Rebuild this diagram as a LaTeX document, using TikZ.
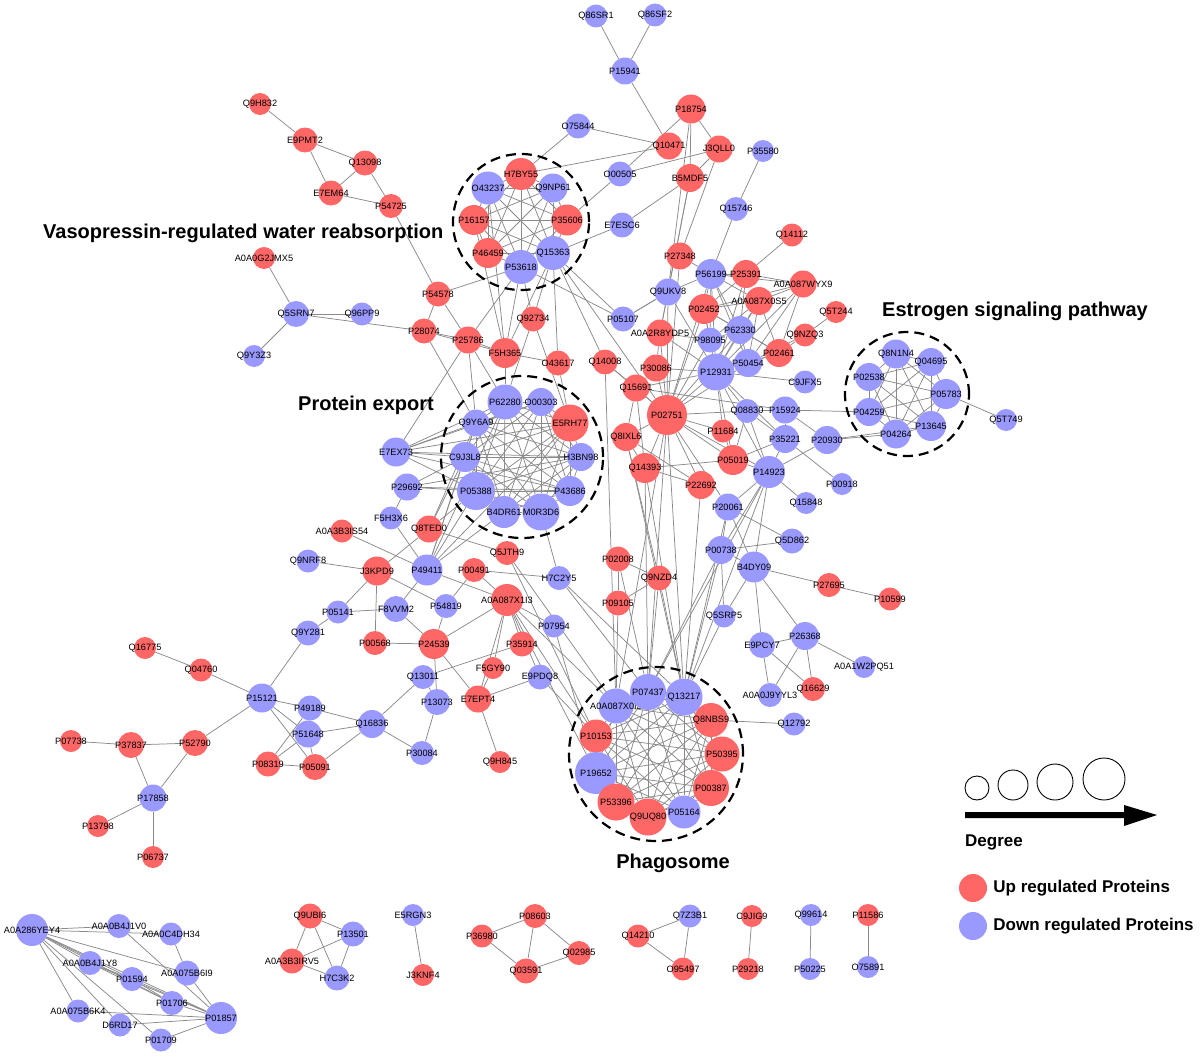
\documentclass[tikz,border=0pt]{standalone}
\usepackage{fontspec}
\setmainfont{Liberation Sans}
\usepackage{tikz}
\usetikzlibrary{positioning,backgrounds}
\definecolor{UpRed}{HTML}{FF6666}
\definecolor{DownBlue}{HTML}{9999FF}
\definecolor{LinkGray}{HTML}{8A8A8A}
\newcommand\vasogroup{H7BY55,O43237,Q9NP61,P16157,P35606,P46459,Q15363,P53618}
\newcommand\exportgroup{P62280,O00303,E5RH77,Q9Y6A9,C9J3L8,H3BN98,P05388,P43686,B4DR61,M0R3D6}
\newcommand\estrogroup{Q8N1N4,Q04695,P02538,P05783,P04259,P13645,P04264}
\newcommand\phagogroup{A0A087X0I3,P07437,Q13217,Q8NBS9,P10153,P50395,P19652,P00387,P53396,Q9UQ80,P05164}

\begin{document}
\begin{tikzpicture}[x=1pt,y=-1pt,
  upnode/.style={circle,fill=UpRed,minimum size=#1pt,inner sep=0pt},
  dnnode/.style={circle,fill=DownBlue,minimum size=#1pt,inner sep=0pt},
  every label/.style={font=\fontsize{9.2}{10}\selectfont,inner sep=0pt},
  link/.style={draw=LinkGray,line width=0.75pt},
  grp/.style={draw=black,line width=2.2pt,dash pattern=on 10pt off 6pt},
  ttl/.style={font=\fontsize{20}{24}\selectfont\bfseries,inner sep=0pt},
  keytext/.style={font=\fontsize{17}{20}\selectfont\bfseries,inner sep=0pt},
  degcirc/.style={circle,draw=black,line width=0.9pt,minimum size=#1pt,inner sep=0pt}]
  \useasboundingbox (0,0) rectangle (1200,1057);

  % titles
  \node[ttl,anchor=west] (vasotitle) at (43,233) {Vasopressin-regulated water reabsorption};
  \node[ttl,anchor=west] (exporttitle) at (298,405) {Protein export};
  \node[ttl,anchor=west] (estrotitle) at (882,311) {Estrogen signaling pathway};
  \node[ttl] (phagotitle) at (673,863) {Phagosome};

  % top left
  \node[upnode=22,label=center:Q9H832] (Q9H832) at (260,104) {};
  \node[upnode=25,label=center:E9PMT2] (E9PMT2) at (305,140) {};
  \node[upnode=25,label=center:Q13098] (Q13098) at (365,163) {};
  \node[upnode=25,label=center:E7EM64] (E7EM64) at (331,193) {};
  \node[upnode=24,label=center:P54725] (P54725) at (391,206) {};
  \node[upnode=22,label=center:A0A0G2JMX5] (A0A0G2JMX5) at (264,258) {};
  \node[dnnode=26,label=center:Q5SRN7] (Q5SRN7) at (296,314) {};
  \node[dnnode=23,label=center:Q96PP9] (Q96PP9) at (362,314) {};
  \node[dnnode=22,label=center:Q9Y3Z3] (Q9Y3Z3) at (254,356) {};

  % top centre
  \node[dnnode=23,label=center:Q86SR1] (Q86SR1) at (596,16) {};
  \node[dnnode=23,label=center:Q86SF2] (Q86SF2) at (655,15) {};
  \node[dnnode=27,label=center:P15941] (P15941) at (625,71) {};
  \node[upnode=29,label=center:P18754] (P18754) at (691,109) {};
  \node[dnnode=25,label=center:O75844] (O75844) at (578,126) {};
  \node[upnode=27,label=center:Q10471] (Q10471) at (669,146) {};
  \node[upnode=27,label=center:J3QLL0] (J3QLL0) at (719,149) {};
  \node[dnnode=22,label=center:P35580] (P35580) at (763,151) {};
  \node[dnnode=25,label=center:O00505] (O00505) at (620,174) {};
  \node[upnode=28,label=center:B5MDF5] (B5MDF5) at (690,178) {};
  \node[dnnode=25,label=center:E7ESC6] (E7ESC6) at (622,225) {};
  \node[dnnode=24,label=center:Q15746] (Q15746) at (736,209) {};
  \node[upnode=23,label=center:Q14112] (Q14112) at (792,235) {};

  \node[upnode=32,label=center:H7BY55] (H7BY55) at (521,174) {};
  \node[dnnode=33,label=center:O43237] (O43237) at (488,188) {};
  \node[dnnode=29,label=center:Q9NP61] (Q9NP61) at (553,188) {};
  \node[upnode=30,label=center:P16157] (P16157) at (474,220) {};
  \node[upnode=31,label=center:P35606] (P35606) at (567,220) {};
  \node[upnode=30,label=center:P46459] (P46459) at (488,253) {};
  \node[dnnode=34,label=center:Q15363] (Q15363) at (553,253) {};
  \node[dnnode=34,label=center:P53618] (P53618) at (521,267) {};

  \node[upnode=25,label=center:P54578] (P54578) at (438,294) {};
  \node[upnode=25,label=center:P28074] (P28074) at (424,331) {};
  \node[upnode=27,label=center:P25786] (P25786) at (468,340) {};
  \node[upnode=30,label=center:F5H365] (F5H365) at (505,353) {};
  \node[upnode=25,label=center:Q92734] (Q92734) at (533,319) {};
  \node[upnode=25,label=center:O43617] (O43617) at (558,363) {};
  \node[dnnode=25,label=center:P05107] (P05107) at (623,319) {};

  % right centre
  \node[upnode=27,label=center:P27348] (P27348) at (680,256) {};
  \node[dnnode=30,label=center:P56199] (P56199) at (711,274) {};
  \node[upnode=28,label=center:P25391] (P25391) at (746,274) {};
  \node[upnode=27,label=center:A0A087WYX9] (A0A087WYX9) at (803,284) {};
  \node[dnnode=27,label=center:Q9UKV8] (Q9UKV8) at (668,292) {};
  \node[upnode=28,label=center:A0A087X0S5] (A0A087X0S5) at (759,301) {};
  \node[upnode=30,label=center:P02452] (P02452) at (704,309) {};
  \node[upnode=22,label=center:Q5T244] (Q5T244) at (836,312) {};
  \node[dnnode=28,label=center:P62330] (P62330) at (740,330) {};
  \node[upnode=27,label=center:A0A2R8YDP5] (A0A2R8YDP5) at (660,333) {};
  \node[upnode=23,label=center:Q9NZQ3] (Q9NZQ3) at (805,335) {};
  \node[dnnode=25,label=center:P98095] (P98095) at (710,340) {};
  \node[upnode=28,label=center:P02461] (P02461) at (779,353) {};
  \node[upnode=25,label=center:Q14008] (Q14008) at (605,362) {};
  \node[upnode=27,label=center:P30086] (P30086) at (656,368) {};
  \node[dnnode=28,label=center:P50454] (P50454) at (748,363) {};
  \node[dnnode=37,label=center:P12931] (P12931) at (716,372) {};
  \node[dnnode=23,label=center:C9JFX5] (C9JFX5) at (805,382) {};
  \node[upnode=27,label=center:Q15691] (Q15691) at (636,388) {};
  \node[upnode=40,label=center:P02751] (P02751) at (667,415) {};
  \node[dnnode=24,label=center:Q08830] (Q08830) at (747,411) {};
  \node[dnnode=27,label=center:P15924] (P15924) at (785,410) {};
  \node[upnode=23,label=center:P11684] (P11684) at (723,431) {};
  \node[upnode=28,label=center:Q8IXL6] (Q8IXL6) at (626,437) {};
  \node[dnnode=28,label=center:P35221] (P35221) at (785,439) {};
  \node[dnnode=28,label=center:P20930] (P20930) at (827,440) {};
  \node[upnode=30,label=center:P05019] (P05019) at (733,460) {};
  \node[upnode=30,label=center:Q14393] (Q14393) at (645,468) {};
  \node[dnnode=32,label=center:P14923] (P14923) at (769,472) {};
  \node[upnode=28,label=center:P22692] (P22692) at (701,485) {};
  \node[dnnode=22,label=center:P00918] (P00918) at (842,484) {};
  \node[dnnode=22,label=center:Q15848] (Q15848) at (806,503) {};
  \node[dnnode=27,label=center:P20061] (P20061) at (728,507) {};
  \node[dnnode=25,label=center:Q5D862] (Q5D862) at (792,541) {};
  \node[dnnode=28,label=center:P00738] (P00738) at (721,550) {};
  \node[dnnode=31,label=center:B4DY09] (B4DY09) at (754,567) {};
  \node[upnode=24,label=center:P27695] (P27695) at (829,585) {};
  \node[upnode=23,label=center:P10599] (P10599) at (890,599) {};
  \node[dnnode=23,label=center:Q5SRP5] (Q5SRP5) at (724,616) {};
  \node[dnnode=28,label=center:P26368] (P26368) at (805,636) {};
  \node[dnnode=26,label=center:E9PCY7] (E9PCY7) at (762,645) {};
  \node[dnnode=22,label=center:A0A1W2PQ51] (A0A1W2PQ51) at (864,667) {};
  \node[dnnode=24,label=center:A0A0J9YYL3] (A0A0J9YYL3) at (770,695) {};
  \node[upnode=24,label=center:Q16629] (Q16629) at (813,689) {};
  \node[upnode=25,label=center:P02008] (P02008) at (618,559) {};
  \node[upnode=25,label=center:Q9NZD4] (Q9NZD4) at (659,578) {};
  \node[upnode=25,label=center:P09105] (P09105) at (618,603) {};

  % estrogen
  \node[dnnode=29,label=center:Q8N1N4] (Q8N1N4) at (896,354) {};
  \node[dnnode=28,label=center:Q04695] (Q04695) at (931,362) {};
  \node[dnnode=28,label=center:P02538] (P02538) at (869,377) {};
  \node[dnnode=30,label=center:P05783] (P05783) at (946,394) {};
  \node[dnnode=28,label=center:P04259] (P04259) at (869,412) {};
  \node[dnnode=30,label=center:P13645] (P13645) at (931,426) {};
  \node[dnnode=29,label=center:P04264] (P04264) at (896,434) {};
  \node[dnnode=22,label=center:Q5T749] (Q5T749) at (1006,420) {};

  % protein export
  \node[dnnode=35,label=center:P62280] (P62280) at (505,402) {};
  \node[dnnode=28,label=center:O00303] (O00303) at (541,402) {};
  \node[upnode=37,label=center:E5RH77] (E5RH77) at (570,423) {};
  \node[dnnode=27,label=center:Q9Y6A9] (Q9Y6A9) at (476,423) {};
  \node[dnnode=30,label=center:C9J3L8] (C9J3L8) at (465,457) {};
  \node[dnnode=28,label=center:H3BN98] (H3BN98) at (581,457) {};
  \node[dnnode=38,label=center:P05388] (P05388) at (476,491) {};
  \node[dnnode=30,label=center:P43686] (P43686) at (570,491) {};
  \node[dnnode=32,label=center:B4DR61] (B4DR61) at (504,512) {};
  \node[dnnode=37,label=center:M0R3D6] (M0R3D6) at (541,512) {};

  % left middle
  \node[dnnode=29,label=center:E7EX73] (E7EX73) at (396,452) {};
  \node[dnnode=27,label=center:P29692] (P29692) at (407,487) {};
  \node[dnnode=23,label=center:F5H3X6] (F5H3X6) at (391,518) {};
  \node[upnode=23,label=center:A0A3B3IS54] (A0A3B3IS54) at (342,531) {};
  \node[upnode=27,label=center:Q8TED0] (Q8TED0) at (429,529) {};
  \node[upnode=24,label=center:Q5JTH9] (Q5JTH9) at (507,553) {};
  \node[dnnode=23,label=center:Q9NRF8] (Q9NRF8) at (308,561) {};
  \node[upnode=29,label=center:J3KPD9] (J3KPD9) at (377,571) {};
  \node[dnnode=31,label=center:P49411] (P49411) at (427,570) {};
  \node[upnode=24,label=center:P00491] (P00491) at (474,570) {};
  \node[dnnode=24,label=center:H7C2Y5] (H7C2Y5) at (559,578) {};
  \node[upnode=32,label=center:A0A087X1I3] (A0A087X1I3) at (507,600) {};
  \node[dnnode=23,label=center:P05141] (P05141) at (338,612) {};
  \node[dnnode=26,label=center:F8VVM2] (F8VVM2) at (396,609) {};
  \node[dnnode=24,label=center:P54819] (P54819) at (446,606) {};
  \node[dnnode=23,label=center:P07954] (P07954) at (554,626) {};
  \node[dnnode=25,label=center:Q9Y281] (Q9Y281) at (308,633) {};
  \node[upnode=24,label=center:P00568] (P00568) at (375,643) {};
  \node[upnode=30,label=center:P24539] (P24539) at (434,644) {};
  \node[upnode=25,label=center:P35914] (P35914) at (522,644) {};
  \node[upnode=22,label=center:F5GY90] (F5GY90) at (493,668) {};
  \node[dnnode=24,label=center:Q13011] (Q13011) at (423,677) {};
  \node[dnnode=25,label=center:E9PDQ8] (E9PDQ8) at (540,677) {};
  \node[dnnode=26,label=center:P13073] (P13073) at (437,702) {};
  \node[upnode=27,label=center:E7EPT4] (E7EPT4) at (478,699) {};
  \node[upnode=22,label=center:Q9H845] (Q9H845) at (500,762) {};
  \node[dnnode=25,label=center:P49189] (P49189) at (310,708) {};
  \node[dnnode=28,label=center:Q16836] (Q16836) at (372,724) {};
  \node[dnnode=27,label=center:P51648] (P51648) at (308,734) {};
  \node[dnnode=24,label=center:P30084] (P30084) at (422,753) {};
  \node[upnode=25,label=center:P08319] (P08319) at (268,764) {};
  \node[upnode=26,label=center:P05091] (P05091) at (315,767) {};
  \node[upnode=22,label=center:Q16775] (Q16775) at (145,648) {};
  \node[upnode=23,label=center:Q04760] (Q04760) at (201,670) {};
  \node[dnnode=29,label=center:P15121] (P15121) at (262,698) {};
  \node[upnode=22,label=center:P07738] (P07738) at (71,741) {};
  \node[upnode=26,label=center:P37837] (P37837) at (131,745) {};
  \node[upnode=26,label=center:P52790] (P52790) at (195,743) {};
  \node[dnnode=27,label=center:P17858] (P17858) at (153,798) {};
  \node[upnode=22,label=center:P13798] (P13798) at (98,826) {};
  \node[upnode=22,label=center:P06737] (P06737) at (153,857) {};

  % phagosome
  \node[dnnode=35,label=center:A0A087X0I3] (A0A087X0I3) at (616,706) {};
  \node[dnnode=36,label=center:P07437] (P07437) at (648,692) {};
  \node[dnnode=37,label=center:Q13217] (Q13217) at (684,697) {};
  \node[upnode=34,label=center:Q8NBS9] (Q8NBS9) at (711,720) {};
  \node[upnode=33,label=center:P10153] (P10153) at (596,736) {};
  \node[upnode=35,label=center:P50395] (P50395) at (722,754) {};
  \node[dnnode=42,label=center:P19652] (P19652) at (596,773) {};
  \node[upnode=36,label=center:P00387] (P00387) at (711,788) {};
  \node[upnode=37,label=center:P53396] (P53396) at (616,802) {};
  \node[upnode=37,label=center:Q9UQ80] (Q9UQ80) at (648,817) {};
  \node[dnnode=33,label=center:P05164] (P05164) at (684,812) {};
  \node[dnnode=23,label=center:Q12792] (Q12792) at (794,724) {};

  % small components
  \node[dnnode=32,label=center:A0A286YEY4] (A0A286YEY4) at (32,930) {};
  \node[dnnode=24,label=center:A0A0B4J1V0] (A0A0B4J1V0) at (119,926) {};
  \node[dnnode=23,label=center:A0A0C4DH34] (A0A0C4DH34) at (171,934) {};
  \node[dnnode=24,label=center:A0A0B4J1Y8] (A0A0B4J1Y8) at (90,963) {};
  \node[dnnode=25,label=center:A0A075B6I9] (A0A075B6I9) at (187,973) {};
  \node[dnnode=24,label=center:P01594] (P01594) at (132,979) {};
  \node[dnnode=24,label=center:P01706] (P01706) at (172,1003) {};
  \node[dnnode=23,label=center:A0A075B6K4] (A0A075B6K4) at (78,1011) {};
  \node[dnnode=32,label=center:P01857] (P01857) at (221,1018) {};
  \node[dnnode=23,label=center:D6RD17] (D6RD17) at (120,1025) {};
  \node[dnnode=23,label=center:P01709] (P01709) at (161,1040) {};
  \node[upnode=25,label=center:Q9UBI6] (Q9UBI6) at (310,916) {};
  \node[dnnode=25,label=center:P13501] (P13501) at (353,934) {};
  \node[upnode=25,label=center:A0A3B3IRV5] (A0A3B3IRV5) at (292,961) {};
  \node[dnnode=25,label=center:H7C3K2] (H7C3K2) at (337,978) {};
  \node[dnnode=22,label=center:E5RGN3] (E5RGN3) at (413,915) {};
  \node[upnode=22,label=center:J3KNF4] (J3KNF4) at (423,975) {};
  \node[upnode=24,label=center:P08603] (P08603) at (535,916) {};
  \node[upnode=23,label=center:P36980] (P36980) at (482,936) {};
  \node[upnode=24,label=center:Q02985] (Q02985) at (579,953) {};
  \node[upnode=25,label=center:Q03591] (Q03591) at (526,971) {};
  \node[dnnode=23,label=center:Q7Z3B1] (Q7Z3B1) at (690,916) {};
  \node[upnode=23,label=center:Q14210] (Q14210) at (638,936) {};
  \node[upnode=23,label=center:O95497] (O95497) at (683,969) {};
  \node[upnode=22,label=center:C9JIG9] (C9JIG9) at (752,916) {};
  \node[upnode=22,label=center:P29218] (P29218) at (748,969) {};
  \node[dnnode=22,label=center:Q99614] (Q99614) at (811,915) {};
  \node[dnnode=22,label=center:P50225] (P50225) at (810,969) {};
  \node[upnode=22,label=center:P11586] (P11586) at (868,915) {};
  \node[dnnode=22,label=center:O75891] (O75891) at (868,967) {};

  % legend
  \node[degcirc=24] (deg1) at (977,788) {};
  \node[degcirc=30] (deg2) at (1013,785) {};
  \node[degcirc=36] (deg3) at (1055,782) {};
  \node[degcirc=42] (deg4) at (1104,779) {};
  \fill[black] (965,812) -- (1124,812) -- (1124,805) -- (1157,815) -- (1124,826)
    -- (1124,818) -- (965,818) -- cycle;
  \node[keytext,anchor=west] (degtext) at (965,842) {Degree};
  \node[upnode=28] (upkey) at (973,888) {};
  \node[keytext,right=6pt of upkey] (uptext) {Up regulated Proteins};
  \node[dnnode=28] (dnkey) at (973,926) {};
  \node[keytext,right=6pt of dnkey] (dntext) {Down regulated Proteins};

  \begin{pgfonlayer}{background}
    \foreach \a [count=\i] in \vasogroup {\foreach \b [count=\j] in \vasogroup {\ifnum\i<\j \draw[link] (\a) -- (\b);\fi}}
    \foreach \a [count=\i] in \exportgroup {\foreach \b [count=\j] in \exportgroup {\ifnum\i<\j \draw[link] (\a) -- (\b);\fi}}
    \foreach \a [count=\i] in \estrogroup {\foreach \b [count=\j] in \estrogroup {\ifnum\i<\j \draw[link] (\a) -- (\b);\fi}}
    \foreach \a [count=\i] in \phagogroup {\foreach \b [count=\j] in \phagogroup {\ifnum\i<\j \draw[link] (\a) -- (\b);\fi}}
    \foreach \a/\b in {Q9H832/E9PMT2,E9PMT2/Q13098,E9PMT2/E7EM64,Q13098/E7EM64,E7EM64/P54725,
      Q13098/P54725,P54725/P54578,A0A0G2JMX5/Q5SRN7,Q5SRN7/Q96PP9,Q5SRN7/Q9Y3Z3,Q5SRN7/P28074,
      Q86SR1/P15941,Q86SF2/P15941,P15941/Q10471,P18754/O00505,P18754/J3QLL0,P18754/B5MDF5,
      O75844/Q10471,O75844/H7BY55,Q10471/H7BY55,J3QLL0/O00505,J3QLL0/B5MDF5,J3QLL0/P27348,
      O00505/P35606,B5MDF5/E7ESC6,B5MDF5/Q9UKV8,B5MDF5/A0A2R8YDP5,P18754/Q9UKV8,E7ESC6/Q15363,
      P35580/Q15746,Q15746/P56199,Q14112/P25391,
      P54578/P53618,P54578/P28074,P54578/P25786,P28074/P25786,P28074/F5H365,P25786/F5H365,
      P25786/P53618,F5H365/O43237,F5H365/P16157,F5H365/P53618,F5H365/Q15363,F5H365/O43617,
      F5H365/P62280,Q15363/Q92734,Q92734/P53618,Q15363/P05107,P53618/P05107,Q15363/Q14008,
      Q15363/O43617,Q15363/P02751,P05107/Q9UKV8,P25786/Q9Y6A9,P25786/P62280,P25786/E7EX73,
      P28074/Q9Y6A9,Q92734/E5RH77,Q92734/P62280,O43617/E5RH77}
      \draw[link] (\a) -- (\b);
    \foreach \a/\b in {P27348/P56199,P27348/P02751,P56199/P25391,P56199/Q9UKV8,P56199/A0A087WYX9,
      P56199/A0A087X0S5,P56199/P02452,P56199/P62330,P56199/P50454,P56199/P12931,P56199/P98095,
      P56199/P02751,P25391/A0A087WYX9,P25391/P02452,P25391/P12931,P25391/P62330,
      A0A087WYX9/A0A087X0S5,A0A087WYX9/P02452,A0A087WYX9/P50454,A0A087WYX9/P02461,
      A0A087WYX9/P12931,A0A087X0S5/P02452,A0A087X0S5/P62330,A0A087X0S5/P50454,
      A0A087X0S5/P02461,A0A087X0S5/P12931,A0A087X0S5/P98095,P02452/P62330,P02452/P98095,
      P02452/P12931,P02452/P02751,P02452/P02461,Q9UKV8/P05107,Q9UKV8/A0A2R8YDP5,
      Q9UKV8/P12931,Q9UKV8/P02751,P62330/P12931,P62330/P50454,P62330/P02461,P62330/P98095,
      P62330/P02751,P98095/P12931,P98095/P02751,P98095/A0A2R8YDP5,A0A2R8YDP5/P12931,
      A0A2R8YDP5/P02751,A0A2R8YDP5/P30086,P02461/Q9NZQ3,P02461/P50454,P02461/P12931,
      Q9NZQ3/Q5T244,Q9NZQ3/P50454,P50454/P12931,P50454/P02751,P12931/C9JFX5,P12931/P30086,
      P12931/Q15691,P12931/P02751,P12931/Q08830,P12931/P11684,P12931/P14923,P12931/P05019,
      P12931/P35221,P02751/P30086,P02751/Q15691,P02751/Q14008,P02751/Q8IXL6,P02751/Q14393,
      P02751/P22692,P02751/P05019,P02751/P11684,P02751/Q08830,P02751/P14923,P02751/P20061,
      Q15691/P15924,Q15691/Q14008,Q15691/Q8IXL6,Q15691/Q14393,P30086/Q15691,Q8IXL6/Q14393,
      Q8IXL6/P22692,Q14393/P05019,Q14393/P22692,P05019/P11684,P05019/P35221,P05019/P14923,
      P05019/Q08830,Q08830/P15924,Q08830/P14923,Q08830/P35221,P15924/P35221,P15924/P20930,
      P15924/P04259,P35221/P14923,P35221/P00918,P20930/P14923,P20930/P04264,P20930/P13645,
      P14923/Q15848,P14923/P20061,P14923/P00738,P14923/B4DY09,P20061/Q5D862,P20061/B4DY09,
      P20061/P00738,P00738/Q5D862,P00738/B4DY09,P00738/Q5SRP5,B4DY09/P27695,B4DY09/E9PCY7,
      B4DY09/P26368,B4DY09/Q5SRP5,P27695/P10599,E9PCY7/P26368,E9PCY7/A0A0J9YYL3,
      E9PCY7/Q16629,P26368/A0A0J9YYL3,P26368/Q16629,P26368/A0A1W2PQ51,P05783/Q5T749}
      \draw[link] (\a) -- (\b);
    \foreach \a/\b in {P02751/Q13217,P02751/P07437,P02751/A0A087X0I3,Q14393/Q13217,Q14393/P07437,
      Q8IXL6/Q13217,Q14008/A0A087X0I3,P02008/P07437,P09105/A0A087X0I3,Q9NZD4/Q13217,
      Q9NZD4/P07437,P22692/Q13217,P14923/Q13217,P14923/P07437,P00738/Q13217,P00738/P07437,
      Q5SRP5/Q13217,P20061/Q13217,Q8IXL6/Q9NZD4,P02008/Q9NZD4,P02008/P09105,P09105/Q9NZD4,
      H7C2Y5/Q13217,H7C2Y5/P07437,H7C2Y5/M0R3D6,Q5JTH9/A0A087X0I3,Q5JTH9/P10153,
      A0A087X1I3/P10153,A0A087X1I3/P19652,A0A087X1I3/A0A087X0I3,P07954/P19652,E9PDQ8/P10153,
      Q8NBS9/Q12792}
      \draw[link] (\a) -- (\b);
    \foreach \a/\b in {E7EX73/Q9Y6A9,E7EX73/P62280,E7EX73/C9J3L8,E7EX73/P05388,E7EX73/E5RH77,
      E7EX73/H3BN98,E7EX73/P43686,E7EX73/O00303,P29692/P05388,P29692/C9J3L8,P29692/P43686,
      P29692/H3BN98,P29692/F5H3X6,F5H3X6/P49411,A0A3B3IS54/P49411,Q9NRF8/J3KPD9,
      J3KPD9/Q8TED0,J3KPD9/P05141,J3KPD9/P00568,J3KPD9/P54819,P49411/F8VVM2,
      P49411/A0A087X1I3,P49411/P05388,P49411/B4DR61,P49411/C9J3L8,P49411/Q9Y6A9,
      P49411/P62280,P49411/E5RH77,Q8TED0/P05388,Q8TED0/C9J3L8,Q8TED0/Q9Y6A9,Q8TED0/Q5JTH9,
      P00491/H7C2Y5,P00491/P54819,P00491/A0A087X1I3,P05141/F8VVM2,P05141/Q9Y281,
      F8VVM2/P24539,P54819/P24539,P00568/P24539,P24539/A0A087X1I3,P24539/P13073,
      P24539/E7EPT4,A0A087X1I3/P35914,A0A087X1I3/F5GY90,A0A087X1I3/E7EPT4,
      A0A087X1I3/P07954,A0A087X1I3/E9PDQ8,P35914/Q13011,E9PDQ8/E7EPT4,E7EPT4/Q9H845,
      F5GY90/E7EPT4,Q13011/Q16836,Q13011/P13073,P13073/P30084,Q16836/P30084,
      Q16836/P49189,Q16836/P51648,Q16836/P05091,Q9Y281/P15121,Q16775/Q04760,Q04760/P15121,
      P15121/P49189,P15121/P51648,P15121/P05091,P15121/P52790,P51648/P08319,P51648/P05091,
      P49189/P08319,P08319/P05091,P07738/P37837,P37837/P52790,P37837/P17858,P52790/P17858,
      P17858/P13798,P17858/P06737}
      \draw[link] (\a) -- (\b);
    \foreach \a/\b in {A0A286YEY4/A0A0B4J1V0,A0A286YEY4/A0A0C4DH34,A0A286YEY4/A0A075B6I9,
      A0A286YEY4/A0A0B4J1Y8,A0A286YEY4/P01594,A0A286YEY4/P01706,A0A286YEY4/P01857,
      A0A286YEY4/A0A075B6K4,A0A286YEY4/D6RD17,A0A286YEY4/P01709,A0A0B4J1V0/P01857,
      A0A0C4DH34/A0A075B6I9,A0A075B6I9/P01857,A0A0B4J1Y8/P01594,A0A0B4J1Y8/P01706,
      A0A0B4J1Y8/P01857,P01594/P01706,P01594/P01857,P01706/P01857,A0A075B6K4/P01857,
      D6RD17/P01857,P01709/P01857,Q9UBI6/P13501,Q9UBI6/A0A3B3IRV5,Q9UBI6/H7C3K2,
      P13501/A0A3B3IRV5,P13501/H7C3K2,A0A3B3IRV5/H7C3K2,E5RGN3/J3KNF4,P08603/P36980,
      P08603/Q03591,P08603/Q02985,P36980/Q03591,Q03591/Q02985,Q7Z3B1/Q14210,
      Q7Z3B1/O95497,Q14210/O95497,C9JIG9/P29218,Q99614/P50225,P11586/O75891}
      \draw[link] (\a) -- (\b);
    \draw[grp] (521,222) circle[radius=68pt];
    \draw[grp] (522,457) circle[radius=81pt];
    \draw[grp] (907,394) circle[radius=62pt];
    \draw[grp] (656,754) circle[radius=87pt];
  \end{pgfonlayer}
\end{tikzpicture}
\end{document}
